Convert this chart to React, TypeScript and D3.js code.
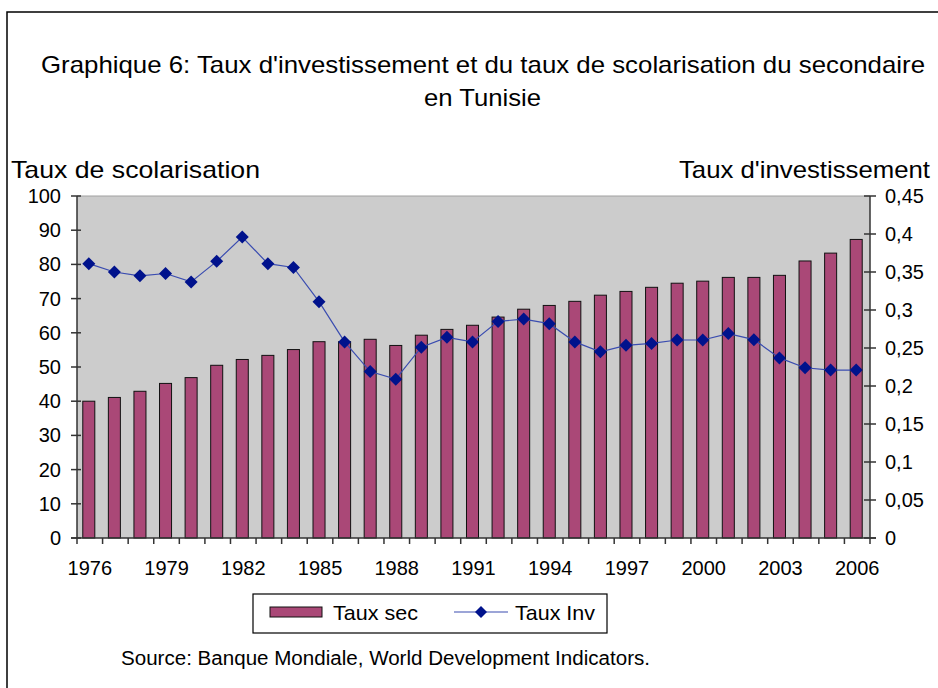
import React from "react";
import * as d3 from "d3";

const years: number[] = d3.range(1976, 2007);
const tauxSec: number[] = [
  40.0, 41.1, 42.9, 45.2, 46.9, 50.5, 52.2, 53.4, 55.1, 57.4,
  57.4, 58.1, 56.3, 59.3, 61.0, 62.2, 64.6, 66.9, 68.0, 69.2,
  71.0, 72.1, 73.3, 74.5, 75.1, 76.2, 76.2, 76.8, 81.0, 83.3, 87.3,
];
const tauxInv: number[] = [
  0.361, 0.350, 0.345, 0.348, 0.337, 0.364, 0.396, 0.361, 0.356, 0.311,
  0.258, 0.219, 0.209, 0.251, 0.264, 0.258, 0.285, 0.288, 0.282, 0.258,
  0.245, 0.2535, 0.256, 0.2605, 0.2605, 0.269, 0.261, 0.237, 0.224, 0.221, 0.221,
];
const leftTicks: number[] = d3.range(0, 101, 10);
const rightTicks: number[] = d3.range(0, 0.451, 0.05);
const xLabelYears: number[] = d3.range(1976, 2007, 3);

const W = 938;
const H = 688;
const FONT = "'Liberation Sans', Arial, sans-serif";

export default function App() {
  const m = { left: 77, right: 870, top: 196, bottom: 538 };
  const x = d3
    .scaleBand<number>()
    .domain(years)
    .range([m.left, m.right])
    .padding(0);
  const yL = d3.scaleLinear().domain([0, 100]).range([m.bottom, m.top]);
  const yR = d3.scaleLinear().domain([0, 0.45]).range([m.bottom, m.top]);
  const bw = x.bandwidth() * 0.47;
  const cx = (yr: number) => (x(yr) as number) + x.bandwidth() / 2 - 1;
  const line = d3
    .line<number>()
    .x((_, i) => cx(years[i]))
    .y((d) => yR(d));
  const fmtR = (v: number) => {
    const s = d3.format(".2~f")(+v.toFixed(2));
    return s.replace(".", ",");
  };
  const diamond = (px: number, py: number, r: number) =>
    `M${px},${py - r}L${px + r},${py}L${px},${py + r}L${px - r},${py}Z`;

  return (
    <svg
      width={W}
      height={H}
      style={{ position: "absolute", left: 0, top: 0, background: "#fff" }}
      fontFamily={FONT}
    >
      <rect x={7} y={12} width={W} height={H} fill="#fff" stroke="#000" strokeWidth={1.5} />
      <text x={41} y={73} fontSize={24} textLength={884} lengthAdjust="spacingAndGlyphs" fill="#000">
        Graphique 6: Taux d'investissement et du taux de scolarisation du secondaire
      </text>
      <text x={424} y={106} fontSize={24} textLength={117} lengthAdjust="spacingAndGlyphs" fill="#000">
        en Tunisie
      </text>
      <text x={11} y={178} fontSize={24} textLength={249} lengthAdjust="spacingAndGlyphs" fill="#000">
        Taux de scolarisation
      </text>
      <text x={679} y={178} fontSize={24} textLength={251} lengthAdjust="spacingAndGlyphs" fill="#000">
        Taux d'investissement
      </text>

      {/* plot area */}
      <rect x={m.left} y={m.top} width={m.right - m.left} height={m.bottom - m.top} fill="#cccccc" />
      <line x1={m.left} x2={m.right} y1={m.top} y2={m.top} stroke="#a0a0a0" strokeWidth={1} />

      {/* bars */}
      {years.map((yr, i) => (
        <rect
          key={yr}
          x={cx(yr) - bw / 2}
          y={yL(tauxSec[i])}
          width={bw}
          height={m.bottom - yL(tauxSec[i])}
          fill="#aa4877"
          stroke="#111"
          strokeWidth={1}
        />
      ))}

      {/* line */}
      <path d={line(tauxInv) || ""} fill="none" stroke="#3a4cb0" strokeWidth={1.2} />
      {tauxInv.map((v, i) => (
        <path key={i} d={diamond(cx(years[i]), yR(v), 6.5)} fill="#00128c" />
      ))}

      {/* left axis */}
      <line x1={m.left} x2={m.left} y1={m.top} y2={m.bottom} stroke="#333" strokeWidth={1.5} />
      {leftTicks.map((t) => (
        <g key={t}>
          <line x1={m.left - 6} x2={m.left + 4} y1={yL(t)} y2={yL(t)} stroke="#333" strokeWidth={1.5} />
          <text x={61} y={yL(t) + 7} fontSize={20} textAnchor="end" fill="#000">
            {t}
          </text>
        </g>
      ))}

      {/* right axis */}
      <line x1={m.right} x2={m.right} y1={m.top} y2={m.bottom} stroke="#333" strokeWidth={1.5} />
      {rightTicks.map((t, i) => (
        <g key={i}>
          <line x1={m.right - 6} x2={m.right + 6} y1={yR(t)} y2={yR(t)} stroke="#333" strokeWidth={1.5} />
          <text x={885} y={yR(t) + 7} fontSize={20} textAnchor="start" fill="#000">
            {fmtR(t)}
          </text>
        </g>
      ))}

      {/* x axis */}
      <line x1={m.left - 6} x2={m.right + 6} y1={m.bottom} y2={m.bottom} stroke="#333" strokeWidth={1.5} />
      {years.concat([2007]).map((yr, i) => {
        const xx = i < years.length ? (x(yr) as number) : m.right;
        return <line key={yr} x1={xx} x2={xx} y1={m.bottom} y2={m.bottom + 6} stroke="#333" strokeWidth={1.5} />;
      })}
      {xLabelYears.map((yr) => (
        <text key={yr} x={cx(yr) + 1} y={575} fontSize={20} textAnchor="middle" fill="#000">
          {yr}
        </text>
      ))}

      {/* legend */}
      <rect x={253} y={594} width={354} height={39} fill="#fff" stroke="#000" strokeWidth={1.2} />
      <rect x={270} y={607} width={52} height={10} fill="#aa4877" stroke="#111" strokeWidth={1} />
      <text x={333} y={620} fontSize={21} textLength={85} lengthAdjust="spacingAndGlyphs" fill="#000">
        Taux sec
      </text>
      <line x1={454} x2={508} y1={612} y2={612} stroke="#3a4cb0" strokeWidth={1.2} />
      <path d={diamond(481, 612, 6)} fill="#00128c" />
      <text x={515} y={620} fontSize={21} textLength={80} lengthAdjust="spacingAndGlyphs" fill="#000">
        Taux Inv
      </text>

      <text x={121} y={665} fontSize={20} textLength={529} lengthAdjust="spacingAndGlyphs" fill="#000">
        Source: Banque Mondiale, World Development Indicators.
      </text>
    </svg>
  );
}
